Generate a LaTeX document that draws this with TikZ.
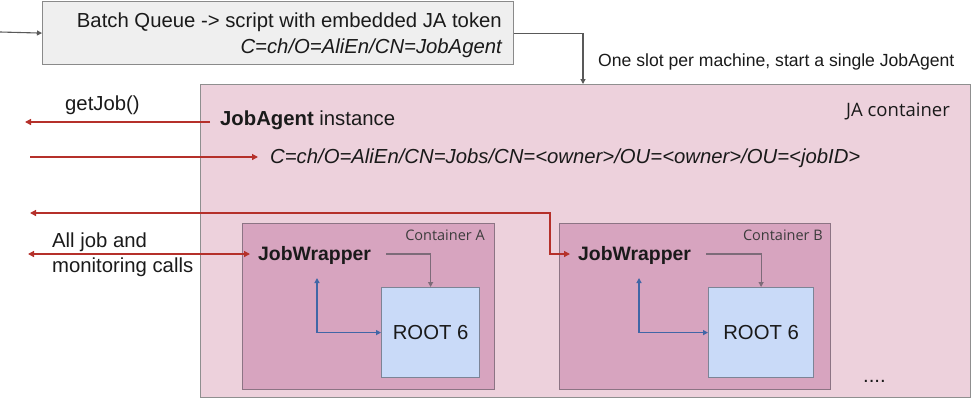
\documentclass[tikz,border=0pt]{standalone}
\usepackage{fontspec}
\setmainfont{Liberation Sans}
\newfontfamily\osans{Open Sans}
\usetikzlibrary{arrows.meta}
\definecolor{topfill}{HTML}{EFEFEF}
\definecolor{topline}{HTML}{8A8A8A}
\definecolor{jafill}{HTML}{EDD1DC}
\definecolor{jaline}{HTML}{8F8F8F}
\definecolor{contfill}{HTML}{D7A4BF}
\definecolor{contline}{HTML}{8C7484}
\definecolor{rootfill}{HTML}{C9DAF8}
\definecolor{rootline}{HTML}{7C8496}
\definecolor{redarr}{HTML}{B5302A}
\definecolor{bluearr}{HTML}{4066A6}
\definecolor{grayarr}{HTML}{7D6B79}
\definecolor{txt}{HTML}{1A1A1A}
\tikzset{
  boxshape/.style={draw, line width=1.2pt, inner sep=0pt, anchor=north west},
  lbl/.style={inner sep=0pt, text=txt, font=\fontsize{20.3}{24}\selectfont},
  jwlbl/.style={inner sep=0pt, text=txt, font=\fontsize{19.4}{24}\selectfont\bfseries, anchor=west, text height=13.9pt, text depth=0pt},
  smalllbl/.style={inner sep=0pt, text=txt!85, font=\osans\fontsize{14.5}{17}\selectfont},
  redA/.style={draw=redarr, line width=1.3pt, -{Triangle[length=6pt,width=6pt]}},
  redAA/.style={draw=redarr, line width=1.3pt, {Triangle[length=6pt,width=6pt]}-{Triangle[length=6pt,width=6pt]}},
  grayA/.style={draw=grayarr, line width=1.1pt, -{Triangle[length=5pt,width=5pt]}},
  blueAA/.style={draw=bluearr, line width=1.2pt, {Triangle[length=5pt,width=5pt]}-{Triangle[length=5pt,width=5pt]}},
  darkA/.style={draw=black!65, line width=1.1pt, -{Triangle[length=5pt,width=5pt]}},
}
\begin{document}
\begin{tikzpicture}[x=1pt,y=-1pt]
\useasboundingbox (0,0) rectangle (977,402);

% top box
\node[boxshape, draw=topline, fill=topfill, minimum width=471pt, minimum height=63pt] (top) at (42,1) {};
\node[lbl, anchor=base east] (t1) at (502,27) {Batch Queue -> script with embedded JA token};
\node[lbl, anchor=base east] (t2) at (502,53) {\itshape C=ch/O=AliEn/CN=JobAgent};

% JA container
\node[boxshape, draw=jaline, fill=jafill, minimum width=770pt, minimum height=313pt] (ja) at (200,84) {};
\node[lbl, anchor=base west, font=\fontsize{17.6}{20}\selectfont] (slot) at (598,66) {One slot per machine, start a single JobAgent};
\node[inner sep=0pt, text=txt, font=\osans\fontsize{18.5}{22}\selectfont, anchor=base east] (jalbl) at (950,116) {JA container};

% Containers
\node[boxshape, draw=contline, fill=contfill, minimum width=252pt, minimum height=166pt] (contA) at (242,223) {};
\node[boxshape, draw=contline, fill=contfill, minimum width=271pt, minimum height=166pt] (contB) at (559,223) {};
\node[smalllbl, anchor=base east] (clA) at (485,240) {Container A};
\node[smalllbl, anchor=base east] (clB) at (823,240) {Container B};

% ROOT boxes
\node[boxshape, draw=rootline, fill=rootfill, minimum width=98pt, minimum height=90pt] (rootA) at (381,287) {};
\node[boxshape, draw=rootline, fill=rootfill, minimum width=105pt, minimum height=90pt] (rootB) at (708,287) {};
\node[lbl] (rtA) at (rootA.center) {ROOT 6};
\node[lbl] (rtB) at (rootB.center) {ROOT 6};

% JobWrappers
\node[jwlbl] (jwA) at (258,254) {JobWrapper};
\node[jwlbl] (jwB) at (578,254) {JobWrapper};

% Left labels
\node[lbl, anchor=base west] (jai) at (220,125) {\bfseries JobAgent\mdseries{} instance};
\node[lbl, anchor=base west] (dn) at (270,163) {\itshape C=ch/O=AliEn/CN=Jobs/CN=<owner>/OU=<owner>/OU=<jobID>};
\node[lbl, anchor=base west] (gj) at (65,110) {getJob()};
\node[lbl, anchor=base west] (calls1) at (52,247) {All job and};
\node[lbl, anchor=base west] (calls2) at (52,272) {monitoring calls};
\node[lbl, anchor=base west] (dots) at (863,382) {....};

% coordinates
\coordinate (in0) at (0,32);
\coordinate (jaIn) at (583,84);
\coordinate (c1s) at (210,122);
\coordinate (c1e) at (25,122);
\coordinate (c2) at (30,157);
\coordinate (c3) at (30,213);
\coordinate (b3) at (550,213);
\coordinate (c4) at (28,254);
\coordinate (bA) at (317,278);
\coordinate (bB) at (639,278);

% connectors
\draw[darkA] (in0) -- (top.west);
\draw[darkA] (top.east) -| (jaIn);
\draw[redA] (c1s) -- (c1e);
\draw[redA, shorten >=12pt] (c2) -- (c2 -| dn.west);
\draw[redAA, shorten >=8pt] (c3) -- (b3) |- (jwB.west);
\draw[redAA, shorten >=8pt] (c4) -- (c4 -| jwA.west);

\draw[grayA, shorten <=15pt] (jwA.east) -| (rootA.north);
\draw[grayA, shorten <=15pt] (jwB.east) -| (rootB.north);
\draw[blueAA] (bA) |- (rootA.west);
\draw[blueAA] (bB) |- (rootB.west);
\end{tikzpicture}
\end{document}
